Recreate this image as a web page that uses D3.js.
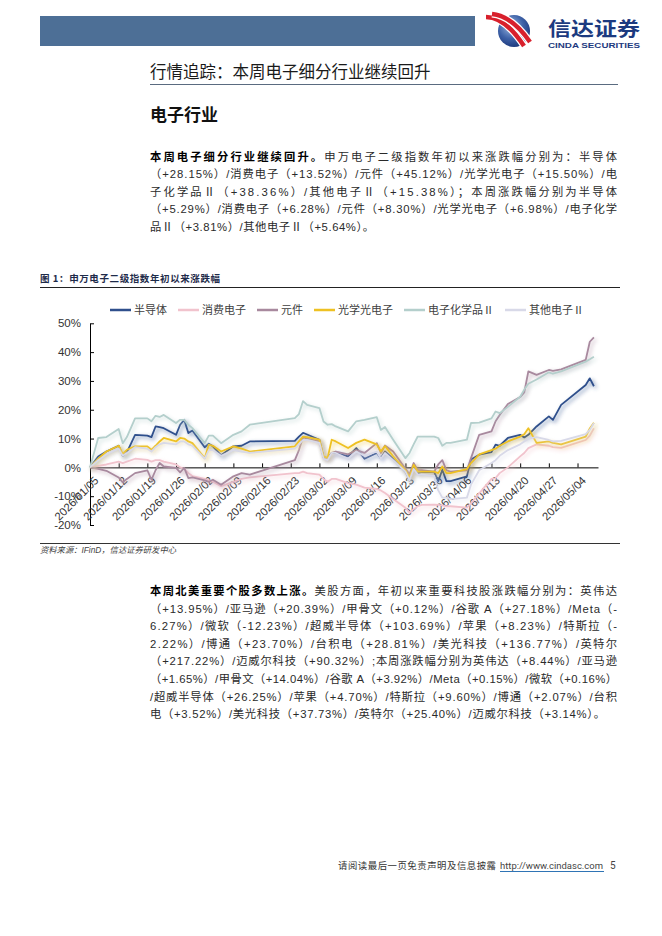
<!DOCTYPE html>
<html>
<head>
<meta charset="utf-8">
<script src="https://cdn.jsdelivr.net/npm/d3@7"></script>
<style>
  body { margin: 0; background: #fff; }
  svg { display: block; }
</style>
</head>
<body>
<svg id="page" width="662" height="936"></svg>
<script>
// ---------------- data ----------------
const seriesNames = ["半导体", "消费电子", "元件", "光学光电子", "电子化学品Ⅱ", "其他电子Ⅱ"];
const seriesColors = ["#2f4f8c", "#f1c3cd", "#a8899e", "#eec123", "#b4cfcc", "#d8d9e8"];

const dates = [
  "2026-01-05","2026-01-07","2026-01-09","2026-01-12","2026-01-13","2026-01-14","2026-01-16",
  "2026-01-19","2026-01-20","2026-01-21","2026-01-22","2026-01-23",
  "2026-01-26","2026-01-27","2026-01-28","2026-01-29","2026-01-30",
  "2026-02-02","2026-02-03","2026-02-04","2026-02-06",
  "2026-02-09","2026-02-11","2026-02-13",
  "2026-02-24","2026-02-25","2026-02-26","2026-02-27",
  "2026-03-02","2026-03-03","2026-03-04","2026-03-05","2026-03-06",
  "2026-03-09","2026-03-11","2026-03-13",
  "2026-03-16","2026-03-17","2026-03-18","2026-03-20",
  "2026-03-23","2026-03-24","2026-03-25","2026-03-26","2026-03-27",
  "2026-03-30","2026-03-31","2026-04-01","2026-04-02","2026-04-03",
  "2026-04-07","2026-04-08","2026-04-10",
  "2026-04-13","2026-04-14","2026-04-15","2026-04-17",
  "2026-04-20","2026-04-21","2026-04-22","2026-04-24",
  "2026-04-27","2026-04-28","2026-04-30",
  "2026-05-06","2026-05-07","2026-05-08"
];

// 年初以来涨跌幅（%）
const semiconductor = [
  0, 3.8, 5.5, 7.5, 4.0, 5.2, 11.3,
  11.0, 10.5, 14.2, 14.0, 13.6,
  11.3, 14.8, 16.5, 11.9, 12.8,
  7.0, 8.2, 7.3, 4.2,
  7.3, 7.5, 9.0,
  9.2, 10.7, 12.0, 11.4,
  9.6, 3.5, 3.2, 5.0, 5.0,
  3.8, 6.7, 3.0,
  5.0, 3.2, 5.5, 2.9,
  -1.5, -4.3, 0.3, -2.0, -1.6,
  -1.6, -4.8, -0.8, -4.8, -4.8,
  -3.1, 2.7, 4.4,
  5.3, 7.9, 7.5, 10.2,
  11.3, 10.4, 11.3, 14.2,
  17.7, 16.5, 21.7,
  28.6, 30.9, 28.15
];
const consumerElec = [
  0, 0.5, 1.0, 2.0, 1.5, 2.0, 3.0,
  2.6, 2.0, 2.5, 2.5, 2.0,
  1.0, 0.0, -0.5, -2.0, -3.0,
  -4.0, -4.5, -5.0, -6.5,
  -5.0, -4.0, -3.5,
  -2.0, -2.0, -1.5, -2.0,
  -2.5, -4.0, -5.0, -4.0, -4.0,
  -5.5, -6.0, -7.0,
  -7.5, -8.0, -8.9, -11.0,
  -14.0, -15.8, -14.5, -13.5, -13.0,
  -12.9, -13.0, -13.2, -13.5, -13.5,
  -14.0, -12.5, -9.0,
  -4.0, -3.7, -2.0, 0.0,
  3.8, 5.0, 6.7, 8.0,
  7.5, 7.0, 6.8,
  9.5, 11.0, 13.52
];
const components = [
  0, -0.5, -1.2, -3.5, -5.2, -4.0, -2.0,
  -1.0, -4.3, -1.0, 1.5, 0.3,
  -0.2, -1.7, -0.2, -3.7, -3.5,
  -4.5, -5.0, -4.3, -6.0,
  -3.1, -2.0, -2.5,
  2.5, 6.0, 10.5, 10.0,
  9.0, 3.5, 3.0, 5.0, 5.5,
  4.5, 6.0, 5.0,
  8.4, 5.0, 7.6, 5.5,
  -0.5, -2.5, 1.5, -1.0, -1.0,
  -1.5, 1.0, 2.5, -1.0, -1.5,
  -1.0, 3.2, 11.3,
  12.5, 16.0, 18.2, 22.0,
  24.4, 26.0, 33.3, 32.1,
  33.8, 33.5, 34.0,
  37.3, 43.6, 45.12
];
const optoElec = [
  0, 3.0, 5.5, 7.5, 4.7, 6.1, 7.3,
  7.3, 6.1, 7.5, 9.0, 10.2,
  9.0, 10.2, 10.0, 9.0, 8.4,
  3.2, 7.9, 7.5, 5.5,
  7.3, 6.5, 5.5,
  7.3, 9.0, 10.7, 10.5,
  9.6, 3.8, 3.3, 9.6, 9.0,
  6.7, 8.5, 9.6,
  8.0, 5.5, 7.4, 3.8,
  -1.0, -3.5, 0.9, -1.5, -1.5,
  -1.5, -2.0, 0.3, -2.0, -2.0,
  -0.6, 1.5, 4.5,
  6.0, 6.5, 7.5, 9.0,
  10.7, 11.5, 13.6, 8.5,
  9.0, 8.5, 8.0,
  10.7, 13.5, 15.5
];
const elecChem = [
  0, 10.2, 10.5, 13.3, 8.4, 10.5, 17.0,
  17.0, 16.0, 17.9, 17.5, 18.2,
  15.4, 16.5, 16.5, 14.8, 13.6,
  8.4, 11.0, 11.0, 8.4,
  11.3, 12.5, 14.8,
  17.1, 18.5, 23.0, 21.7,
  20.6, 15.9, 14.8, 15.0, 14.2,
  12.5, 16.0, 16.5,
  17.4, 13.0, 14.0, 9.6,
  3.2, 5.0, 8.0, 10.7, 10.7,
  10.7, 10.2, 7.5, 8.5, 8.5,
  9.6, 15.4, 15.5,
  17.0, 19.4, 18.8, 21.0,
  24.5, 27.0, 29.0, 30.5,
  33.0, 32.5, 33.3,
  36.7, 37.5, 38.36
];
const otherElec = [
  0, 2.5, 4.5, 6.5, 4.0, 5.0, 7.0,
  6.5, 5.5, 7.0, 8.0, 8.5,
  8.0, 9.0, 9.0, 8.0, 7.5,
  3.0, 6.0, 6.0, 4.0,
  6.0, 5.5, 5.0,
  6.5, 8.0, 9.5, 9.5,
  8.5, 3.0, 2.5, 5.0, 5.0,
  3.0, 5.5, 4.0,
  5.5, 3.0, 5.0, 2.5,
  -1.5, -4.5, -0.5, -2.5, -2.5,
  -3.0, -8.0, -10.5, -10.5, -11.0,
  -10.5, -6.0, -1.0,
  1.5, 2.5, 4.0, 6.0,
  8.0, 9.0, 10.0, 10.5,
  9.5, 9.0, 9.2,
  11.5, 13.0, 15.38
];
const seriesValues = [semiconductor, consumerElec, components, optoElec, elecChem, otherElec];

const yTicks = [-20, -10, 0, 10, 20, 30, 40, 50];
const xTicks = ["2026-01-05","2026-01-12","2026-01-19","2026-01-26","2026-02-02","2026-02-09",
  "2026-02-16","2026-02-23","2026-03-02","2026-03-09","2026-03-16","2026-03-23","2026-03-30",
  "2026-04-06","2026-04-13","2026-04-20","2026-04-27","2026-05-04"];

// ---------------- texts ----------------
const titleText = "行情追踪：本周电子细分行业继续回升";
const sectionText = "电子行业";
const p1Lead = "本周电子细分行业继续回升。";
const p1Lines = [
  "申万电子二级指数年初以来涨跌幅分别为：半导体",
  "（+28.15%）/消费电子（+13.52%）/元件（+45.12%）/光学光电子（+15.50%）/电",
  "子化学品Ⅱ（+38.36%）/其他电子Ⅱ（+15.38%）；本周涨跌幅分别为半导体",
  "（+5.29%）/消费电子（+6.28%）/元件（+8.30%）/光学光电子（+6.98%）/电子化学",
  "品Ⅱ（+3.81%）/其他电子Ⅱ（+5.64%）。"
];
const p2Lead = "本周北美重要个股多数上涨。";
const p2Lines = [
  "美股方面，年初以来重要科技股涨跌幅分别为：英伟达",
  "（+13.95%）/亚马逊（+20.39%）/甲骨文（+0.12%）/谷歌 A（+27.18%）/Meta（-",
  "6.27%）/微软（-12.23%）/超威半导体（+103.69%）/苹果（+8.23%）/特斯拉（-",
  "2.22%）/博通（+23.70%）/台积电（+28.81%）/美光科技（+136.77%）/英特尔",
  "（+217.22%）/迈威尔科技（+90.32%）;本周涨跌幅分别为英伟达（+8.44%）/亚马逊",
  "（+1.65%）/甲骨文（+14.04%）/谷歌 A（+3.92%）/Meta（+0.15%）/微软（+0.16%）",
  "/超威半导体（+26.25%）/苹果（+4.70%）/特斯拉（+9.60%）/博通（+2.07%）/台积",
  "电（+3.52%）/美光科技（+37.73%）/英特尔（+25.40%）/迈威尔科技（+3.14%）。"
];
const captionText = "图 1：申万电子二级指数年初以来涨跌幅";
const sourceText = "资料来源：IFinD，信达证券研发中心";
const footerText = "请阅读最后一页免责声明及信息披露";
const footerLink = "http://www.cindasc.com";
const pageNo = "5";

// ---------------- page ----------------
const svg = d3.select("#page");
const bodyFont = "'Liberation Sans', 'Noto Sans CJK SC', sans-serif";
const cjkFont = "'Noto Sans CJK SC', sans-serif";

// header bar + logo
svg.append("rect").attr("x", 40).attr("y", 16).attr("width", 435).attr("height", 30).attr("fill", "#4d6f96");

const defs = svg.append("defs");
const rg = defs.append("radialGradient").attr("id", "ball").attr("cx", "40%").attr("cy", "35%").attr("r", "70%");
rg.append("stop").attr("offset", "0%").attr("stop-color", "#9db8e0");
rg.append("stop").attr("offset", "55%").attr("stop-color", "#3f63a8");
rg.append("stop").attr("offset", "100%").attr("stop-color", "#1a3579");
svg.append("circle").attr("cx", 514).attr("cy", 31).attr("r", 16).attr("fill", "url(#ball)");
[["M486,17 Q505,17 524,46", 4.5], ["M492,14 Q512,16 530,42", 4.5]].forEach(([p, w]) => {
  svg.append("path").attr("d", p).attr("fill", "none").attr("stroke", "#fff").attr("stroke-width", w + 2.5);
  svg.append("path").attr("d", p).attr("fill", "none").attr("stroke", "#d8202c").attr("stroke-width", w);
});
svg.append("text").attr("x", 548).attr("y", 36).attr("font-family", cjkFont).attr("font-weight", 700)
  .attr("font-size", 19).attr("fill", "#1c3a80").attr("textLength", 92).attr("lengthAdjust", "spacingAndGlyphs")
  .text("信达证券");
svg.append("text").attr("x", 548).attr("y", 47.5).attr("font-family", "'Liberation Sans', sans-serif").attr("font-weight", 700)
  .attr("font-size", 7).attr("fill", "#1c3a80").attr("textLength", 92).attr("lengthAdjust", "spacingAndGlyphs")
  .text("CINDA SECURITIES");

// title
svg.append("text").attr("x", 150).attr("y", 78).attr("font-family", cjkFont).attr("font-size", 16.5)
  .attr("fill", "#1a1a1a").text(titleText);
svg.append("line").attr("x1", 150).attr("x2", 618).attr("y1", 84.5).attr("y2", 84.5)
  .attr("stroke", "#5a6b80").attr("stroke-width", 1);
svg.append("text").attr("x", 150).attr("y", 121).attr("font-family", cjkFont).attr("font-weight", 700)
  .attr("font-size", 17).attr("fill", "#111").text(sectionText);

// justified paragraph lines
function paragraph(lead, lines, y0, lh, lastWidth) {
  lines.forEach((ln, i) => {
    const t = svg.append("text").attr("x", 150).attr("y", y0 + i * lh)
      .attr("font-family", bodyFont).attr("font-size", 11.3).attr("fill", "#2a2a2a");
    if (i === 0) {
      t.append("tspan").attr("font-weight", 700).attr("fill", "#000").text(lead);
    }
    t.append("tspan").text(ln);
    const target = i === lines.length - 1 ? lastWidth : 467;
    const node = t.node();
    const n = node.getNumberOfChars();
    const w = node.getComputedTextLength();
    t.attr("letter-spacing", (target - w) / (n - 1));
  });
}
paragraph(p1Lead, p1Lines, 160.8, 17.5, 224);
paragraph(p2Lead, p2Lines, 595, 17.6, 455);

// caption & rules
svg.append("text").attr("x", 40).attr("y", 282).attr("font-family", cjkFont).attr("font-weight", 700)
  .attr("font-size", 9.5).attr("letter-spacing", 0.6).attr("fill", "#1e2b4a").text(captionText);
svg.append("line").attr("x1", 40).attr("x2", 620).attr("y1", 287.5).attr("y2", 287.5)
  .attr("stroke", "#222").attr("stroke-width", 1.2);
svg.append("line").attr("x1", 40).attr("x2", 620).attr("y1", 543.5).attr("y2", 543.5)
  .attr("stroke", "#333").attr("stroke-width", 1);
svg.append("text").attr("x", 40).attr("y", 553).attr("font-family", bodyFont).attr("font-style", "italic")
  .attr("font-size", 8.3).attr("fill", "#444").text(sourceText);

// footer
svg.append("text").attr("x", 338).attr("y", 869).attr("font-family", cjkFont).attr("font-size", 9.4)
  .attr("textLength", 158).attr("lengthAdjust", "spacing").attr("fill", "#333").text(footerText);
svg.append("text").attr("x", 500).attr("y", 869).attr("font-family", "Roboto, 'Liberation Sans', sans-serif")
  .attr("font-size", 9.6).attr("textLength", 103).attr("lengthAdjust", "spacingAndGlyphs")
  .attr("fill", "#444").text(footerLink);
svg.append("line").attr("x1", 500).attr("x2", 604).attr("y1", 871.5).attr("y2", 871.5)
  .attr("stroke", "#2f74b5").attr("stroke-width", 1);
svg.append("text").attr("x", 610).attr("y", 869).attr("font-family", "Roboto, 'Liberation Sans', sans-serif")
  .attr("font-size", 10).attr("fill", "#444").text(pageNo);

// ---------------- chart ----------------
const parse = d3.timeParse("%Y-%m-%d");
const x = d3.scaleTime().domain([parse("2026-01-05"), parse("2026-05-09")]).range([90, 598]);
const y = d3.scaleLinear().domain([-20, 50]).range([525, 323.3]);

const chart = svg.append("g");

// shadow under lines
const f = defs.append("filter").attr("id", "shadow").attr("filterUnits", "userSpaceOnUse")
  .attr("x", 60).attr("y", 300).attr("width", 580).attr("height", 260);
f.append("feGaussianBlur").attr("in", "SourceGraphic").attr("stdDeviation", 1.9).attr("result", "b");
f.append("feOffset").attr("in", "b").attr("dx", 1.5).attr("dy", 2.2).attr("result", "o");
f.append("feComponentTransfer").attr("in", "o").attr("result", "t")
  .append("feFuncA").attr("type", "linear").attr("slope", 0.65);
const fm = f.append("feMerge");
fm.append("feMergeNode").attr("in", "t");
fm.append("feMergeNode").attr("in", "SourceGraphic");

// axes
const yAxis = d3.axisLeft(y).tickValues(yTicks).tickFormat(d => d + "%").tickSize(-4).tickSizeOuter(0).tickPadding(9);
const yG = chart.append("g").attr("transform", "translate(90,0)").call(yAxis);
yG.select(".domain").attr("stroke", "#000");
yG.selectAll(".tick line").attr("stroke", "#000");
yG.selectAll("text").attr("font-family", "'Liberation Sans', sans-serif").attr("font-size", 11.5).attr("fill", "#333");

const xAxis = d3.axisBottom(x).tickValues(xTicks.map(parse)).tickFormat(d3.timeFormat("%Y/%m/%d"))
  .tickSize(-4).tickSizeOuter(0);
const xG = chart.append("g").attr("transform", `translate(0,${y(0)})`).call(xAxis);
xG.select(".domain").attr("stroke", "#000");
xG.selectAll(".tick line").attr("stroke", "#000");
xG.selectAll("text")
  .attr("font-family", "'Liberation Sans', sans-serif").attr("font-size", 11.3).attr("fill", "#333")
  .attr("x", 0).attr("y", 0).attr("dy", "0.35em")
  .attr("text-anchor", "end")
  .attr("transform", "translate(6,11) rotate(-45)");

// lines
const line = d3.line().x(d => x(d.date)).y(d => y(d.v));
const parsedDates = dates.map(parse);
seriesNames.forEach((name, i) => {
  const pts = parsedDates.map((dt, k) => ({ date: dt, v: seriesValues[i][k] }));
  chart.append("path").datum(pts)
    .attr("d", line)
    .attr("fill", "none")
    .attr("stroke", seriesColors[i])
    .attr("stroke-width", 1.8)
    .attr("stroke-linejoin", "round")
    .attr("filter", "url(#shadow)");
});

// legend
const legend = chart.append("g").attr("transform", "translate(0,310)");
let lx = 110;
seriesNames.forEach((name, i) => {
  legend.append("line").attr("x1", lx).attr("x2", lx + 21).attr("y1", 0).attr("y2", 0)
    .attr("stroke", seriesColors[i]).attr("stroke-width", 2.5);
  const t = legend.append("text").attr("x", lx + 24).attr("y", 0).attr("dy", "0.36em")
    .attr("font-family", cjkFont).attr("font-size", 11).attr("fill", "#404040").text(name);
  lx += 24 + t.node().getComputedTextLength() + 11;
});
</script>
</body>
</html>
